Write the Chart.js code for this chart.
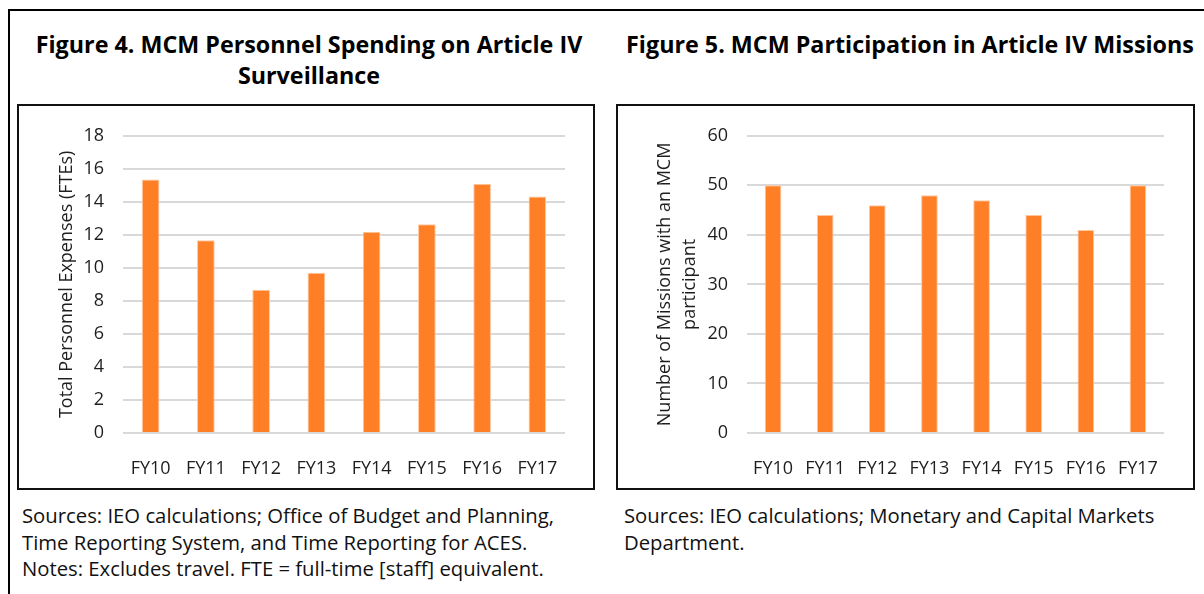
<!DOCTYPE html>
<html>
<head>
<meta charset="utf-8">
<script src="https://cdn.jsdelivr.net/npm/chart.js@4.4.1/dist/chart.umd.min.js"></script>
<style>
    body { margin: 0; background: #fff; font-family: "Open Sans", sans-serif; color: #111; }
    #page { position: relative; width: 1204px; height: 594px; overflow: hidden; }
    .frame { position: absolute; left: 8px; top: 9px; width: 1300px; height: 700px;
             border-top: 2px solid #000; border-left: 2px solid #000; }
    .title { position: absolute; font-weight: 700; font-size: 23.3px; line-height: 31px;
             text-align: center; white-space: nowrap; color: #000; }
    .box { position: absolute; border: 2px solid #111; box-sizing: border-box; background: #fff; }
    .box canvas { position: absolute; left: 0; top: 0; }
    .note { position: absolute; font-size: 20.3px; line-height: 26.5px; white-space: nowrap; color: #111; }
</style>
</head>
<body>
<div id="page">
    <div class="frame"></div>

    <div class="title" style="left:20px; top:29px; width:578px;">Figure 4. MCM Personnel Spending on Article IV<br>Surveillance</div>
    <div class="title" style="left:616px; top:29px; width:588px;">Figure 5. MCM Participation in Article IV Missions</div>

    <div class="box" style="left:17px; top:104px; width:578px; height:386px;">
        <canvas id="fteChart"></canvas>
    </div>
    <div class="box" style="left:616px; top:104px; width:579px; height:386px;">
        <canvas id="missionChart"></canvas>
    </div>

    <div class="note" style="left:22px; top:502px;">Sources: IEO calculations; Office of Budget and Planning,<br>Time Reporting System, and Time Reporting for ACES.<br>Notes: Excludes travel. FTE = full-time [staff] equivalent.</div>
    <div class="note" style="left:624px; top:502px;">Sources: IEO calculations; Monetary and Capital Markets<br>Department.</div>
</div>

<script>
/* Data */
const years = ["FY10", "FY11", "FY12", "FY13", "FY14", "FY15", "FY16", "FY17"];
const fteValues = [15.35, 11.67, 8.67, 9.71, 12.19, 12.65, 15.1, 14.32];
const missionValues = [50, 44, 46, 48, 47, 44, 41, 50];
const fteTicks = [0, 2, 4, 6, 8, 10, 12, 14, 16, 18];
const missionTicks = [0, 10, 20, 30, 40, 50, 60];

const barColor = "#FF7F27";
const gridColor = "#d9d9d9";
const textColor = "#1e1e1e";
const font = { family: "'Open Sans', sans-serif", size: 18 };

/* Shared chart builder */
function makeChart(id, w, h, values, ticks, yTitle, yWidth, titlePad) {
    const cv = document.getElementById(id);
    cv.width = w;
    cv.height = h;
    cv.style.width = w + "px";
    cv.style.height = h + "px";

    return new Chart(cv, {
        type: "bar",
        data: {
            labels: years,
            datasets: [{
                data: values,
                backgroundColor: barColor,
                borderColor: "#ffc79e",
                borderWidth: { top: 1, left: 1, right: 1, bottom: 0 },
                categoryPercentage: 1,
                barPercentage: 0.32
            }]
        },
        options: {
            responsive: false,
            animation: false,
            devicePixelRatio: 1,
            layout: { padding: { left: 0, right: w - 546, top: 28, bottom: 10 } },
            plugins: { legend: { display: false }, tooltip: { enabled: false } },
            scales: {
                x: {
                    grid: { display: false },
                    border: { display: false },
                    ticks: { color: textColor, font: font, padding: 17, maxRotation: 0 },
                    afterFit: s => { s.height = 45; }
                },
                y: {
                    min: ticks[0],
                    max: ticks[ticks.length - 1],
                    afterBuildTicks: s => { s.ticks = ticks.map(v => ({ value: v })); },
                    grid: { color: gridColor, lineWidth: 2, drawTicks: false },
                    border: { display: false },
                    ticks: { color: textColor, font: font, padding: 19 },
                    title: {
                        display: true,
                        text: yTitle,
                        color: textColor,
                        font: { family: font.family, size: 18, lineHeight: 1.35 },
                        padding: { top: titlePad, bottom: 0 }
                    },
                    afterFit: s => { s.width = yWidth; }
                }
            }
        }
    });
}

makeChart("fteChart", 574, 382, fteValues, fteTicks,
    "Total Personnel Expenses (FTEs)", 104, 36);

makeChart("missionChart", 575, 382, missionValues, missionTicks,
    ["Number of Missions with an MCM", "participant"], 129, 35);
</script>
</body>
</html>
